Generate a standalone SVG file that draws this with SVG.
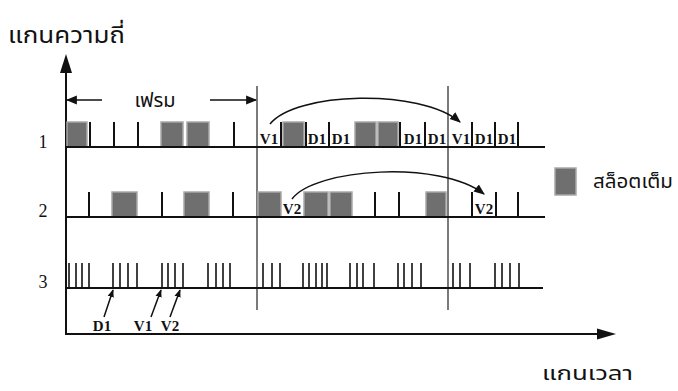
<svg xmlns="http://www.w3.org/2000/svg" width="678" height="391" viewBox="0 0 678 391">
<style>
.thai{font-family:"Noto Sans Thai","Noto Serif Thai",Loma,Garuda,Norasi,"Liberation Sans",sans-serif;fill:#111}
.lbl{font-family:"Liberation Serif","Times New Roman",serif;font-weight:bold;font-size:15px;fill:#111;text-anchor:middle}
.num{font-family:"Liberation Serif","Times New Roman",serif;font-size:18px;fill:#111;text-anchor:middle}
.slot{fill:#6f6f6f;stroke:#a8a8a8;stroke-width:1.5}
.base{stroke:#111;stroke-width:2;fill:none}
.tick{stroke:#111;stroke-width:2}
.tk3{stroke:#111;stroke-width:1.6}
.frame{stroke:#222;stroke-width:1.2}
.conn{stroke:#111;stroke-width:1.5;fill:none}
.ah{fill:#111}
</style>
<defs>
<marker id="arr" viewBox="0 0 10 10" refX="9" refY="5" markerWidth="11" markerHeight="11" markerUnits="userSpaceOnUse" orient="auto">
<path d="M0,1 L10,5 L0,9 Z" class="ah"/>
</marker>
<marker id="arrS" viewBox="0 0 10 10" refX="9" refY="5" markerWidth="8" markerHeight="8" markerUnits="userSpaceOnUse" orient="auto">
<path d="M0,1 L10,5 L0,9 Z" class="ah"/>
</marker>
</defs>

<g id="axes">
<line x1="66" y1="70" x2="66" y2="335" class="base"/>
<path d="M66,54 L72,73 L60,73 Z" class="ah"/>
<line x1="65" y1="334" x2="598" y2="334" class="base"/>
<path d="M616,334 L597,328.5 L597,339.5 Z" class="ah"/>
<text x="8" y="43" class="thai" font-size="23" textLength="117" lengthAdjust="spacingAndGlyphs">แกนความถี่</text>
<text x="542" y="380" class="thai" font-size="20" textLength="91" lengthAdjust="spacingAndGlyphs">แกนเวลา</text>
</g>

<g id="frame-lines">
<line x1="257" y1="86" x2="257" y2="310" class="frame"/>
<line x1="448" y1="86" x2="448" y2="310" class="frame"/>
</g>

<g id="frame-label">
<text x="155" y="107" class="thai" font-size="20" text-anchor="middle">เฟรม</text>
</g>

<g id="row1">
<text x="43" y="148" class="num">1</text>
<rect x="67" y="122" width="20" height="25" class="slot"/>
<rect x="161" y="122" width="22" height="25" class="slot"/>
<rect x="187" y="122" width="22" height="25" class="slot"/>
<rect x="283" y="122" width="21" height="25" class="slot"/>
<rect x="355" y="122" width="21" height="25" class="slot"/>
<rect x="378" y="122" width="20" height="25" class="slot"/>
<line x1="66" y1="147" x2="545" y2="147" class="base"/>
<g class="tick">
<line x1="90" y1="122" x2="90" y2="147"/>
<line x1="114" y1="122" x2="114" y2="147"/>
<line x1="138" y1="122" x2="138" y2="147"/>
<line x1="234" y1="122" x2="234" y2="147"/>
<line x1="281" y1="122" x2="281" y2="147"/>
<line x1="306" y1="122" x2="306" y2="147"/>
<line x1="329" y1="122" x2="329" y2="147"/>
<line x1="400" y1="122" x2="400" y2="147"/>
<line x1="425" y1="122" x2="425" y2="147"/>
<line x1="472" y1="122" x2="472" y2="147"/>
<line x1="495" y1="122" x2="495" y2="147"/>
<line x1="518" y1="122" x2="518" y2="147"/>
</g>
<text x="269" y="144" class="lbl">V1</text>
<text x="317" y="144" class="lbl">D1</text>
<text x="341" y="144" class="lbl">D1</text>
<text x="413" y="144" class="lbl">D1</text>
<text x="437" y="144" class="lbl">D1</text>
<text x="461" y="144" class="lbl">V1</text>
<text x="484" y="144" class="lbl">D1</text>
<text x="507" y="144" class="lbl">D1</text>
</g>

<g id="row2">
<text x="43" y="217" class="num">2</text>
<rect x="112" y="192" width="25" height="25" class="slot"/>
<rect x="184" y="192" width="25" height="25" class="slot"/>
<rect x="258" y="192" width="23" height="25" class="slot"/>
<rect x="304" y="192" width="24" height="25" class="slot"/>
<rect x="330" y="192" width="22" height="25" class="slot"/>
<rect x="426" y="192" width="20" height="25" class="slot"/>
<line x1="66" y1="217" x2="545" y2="217" class="base"/>
<g class="tick">
<line x1="89" y1="192" x2="89" y2="217"/>
<line x1="162" y1="192" x2="162" y2="217"/>
<line x1="233" y1="192" x2="233" y2="217"/>
<line x1="375" y1="192" x2="375" y2="217"/>
<line x1="399" y1="192" x2="399" y2="217"/>
<line x1="472" y1="192" x2="472" y2="217"/>
<line x1="496" y1="192" x2="496" y2="217"/>
<line x1="518" y1="192" x2="518" y2="217"/>
</g>
<text x="292" y="214" class="lbl">V2</text>
<text x="484" y="214" class="lbl">V2</text>
</g>

<g id="row3">
<text x="43" y="288" class="num">3</text>
<line x1="66" y1="288" x2="543" y2="288" class="base"/>
<g class="tk3">
<line x1="69" y1="263" x2="69" y2="288"/><line x1="76" y1="263" x2="76" y2="288"/><line x1="82" y1="263" x2="82" y2="288"/><line x1="89" y1="263" x2="89" y2="288"/>
<line x1="113" y1="263" x2="113" y2="288"/><line x1="120" y1="263" x2="120" y2="288"/><line x1="128" y1="263" x2="128" y2="288"/><line x1="137" y1="263" x2="137" y2="288"/>
<line x1="162" y1="263" x2="162" y2="288"/><line x1="168" y1="263" x2="168" y2="288"/><line x1="175" y1="263" x2="175" y2="288"/><line x1="183" y1="263" x2="183" y2="288"/>
<line x1="208" y1="263" x2="208" y2="288"/><line x1="216" y1="263" x2="216" y2="288"/><line x1="223" y1="263" x2="223" y2="288"/><line x1="230" y1="263" x2="230" y2="288"/>
<line x1="263" y1="263" x2="263" y2="288"/><line x1="272" y1="263" x2="272" y2="288"/><line x1="280" y1="263" x2="280" y2="288"/>
<line x1="303" y1="263" x2="303" y2="288"/><line x1="309" y1="263" x2="309" y2="288"/><line x1="316" y1="263" x2="316" y2="288"/><line x1="322" y1="263" x2="322" y2="288"/><line x1="327" y1="263" x2="327" y2="288"/>
<line x1="350" y1="263" x2="350" y2="288"/><line x1="357" y1="263" x2="357" y2="288"/><line x1="363" y1="263" x2="363" y2="288"/><line x1="374" y1="263" x2="374" y2="288"/>
<line x1="398" y1="263" x2="398" y2="288"/><line x1="404" y1="263" x2="404" y2="288"/><line x1="412" y1="263" x2="412" y2="288"/><line x1="421" y1="263" x2="421" y2="288"/>
<line x1="453" y1="263" x2="453" y2="288"/><line x1="460" y1="263" x2="460" y2="288"/><line x1="470" y1="263" x2="470" y2="288"/>
<line x1="495" y1="263" x2="495" y2="288"/><line x1="502" y1="263" x2="502" y2="288"/><line x1="510" y1="263" x2="510" y2="288"/><line x1="519" y1="263" x2="519" y2="288"/>
</g>
<text x="102" y="331" class="lbl">D1</text>
<text x="143" y="331" class="lbl">V1</text>
<text x="170" y="331" class="lbl">V2</text>
</g>

<g id="legend">
<rect x="555" y="168" width="21" height="27" class="slot"/>
<text x="593" y="188" class="thai" font-size="20" textLength="80" lengthAdjust="spacingAndGlyphs">สล็อตเต็ม</text>
</g>

<g id="connectors">
<line x1="102" y1="100" x2="67" y2="100" class="conn" marker-end="url(#arr)"/>
<line x1="210" y1="100" x2="256" y2="100" class="conn" marker-end="url(#arr)"/>
<path d="M270,124 C295,92 420,88 460,122" class="conn" marker-end="url(#arr)"/>
<path d="M292,199 C315,168 440,160 484,194" class="conn" marker-end="url(#arr)"/>
<line x1="104" y1="317" x2="113" y2="290" class="conn" marker-end="url(#arrS)"/>
<line x1="151" y1="317" x2="161" y2="290" class="conn" marker-end="url(#arrS)"/>
<line x1="170" y1="317" x2="180" y2="290" class="conn" marker-end="url(#arrS)"/>
</g>
</svg>
